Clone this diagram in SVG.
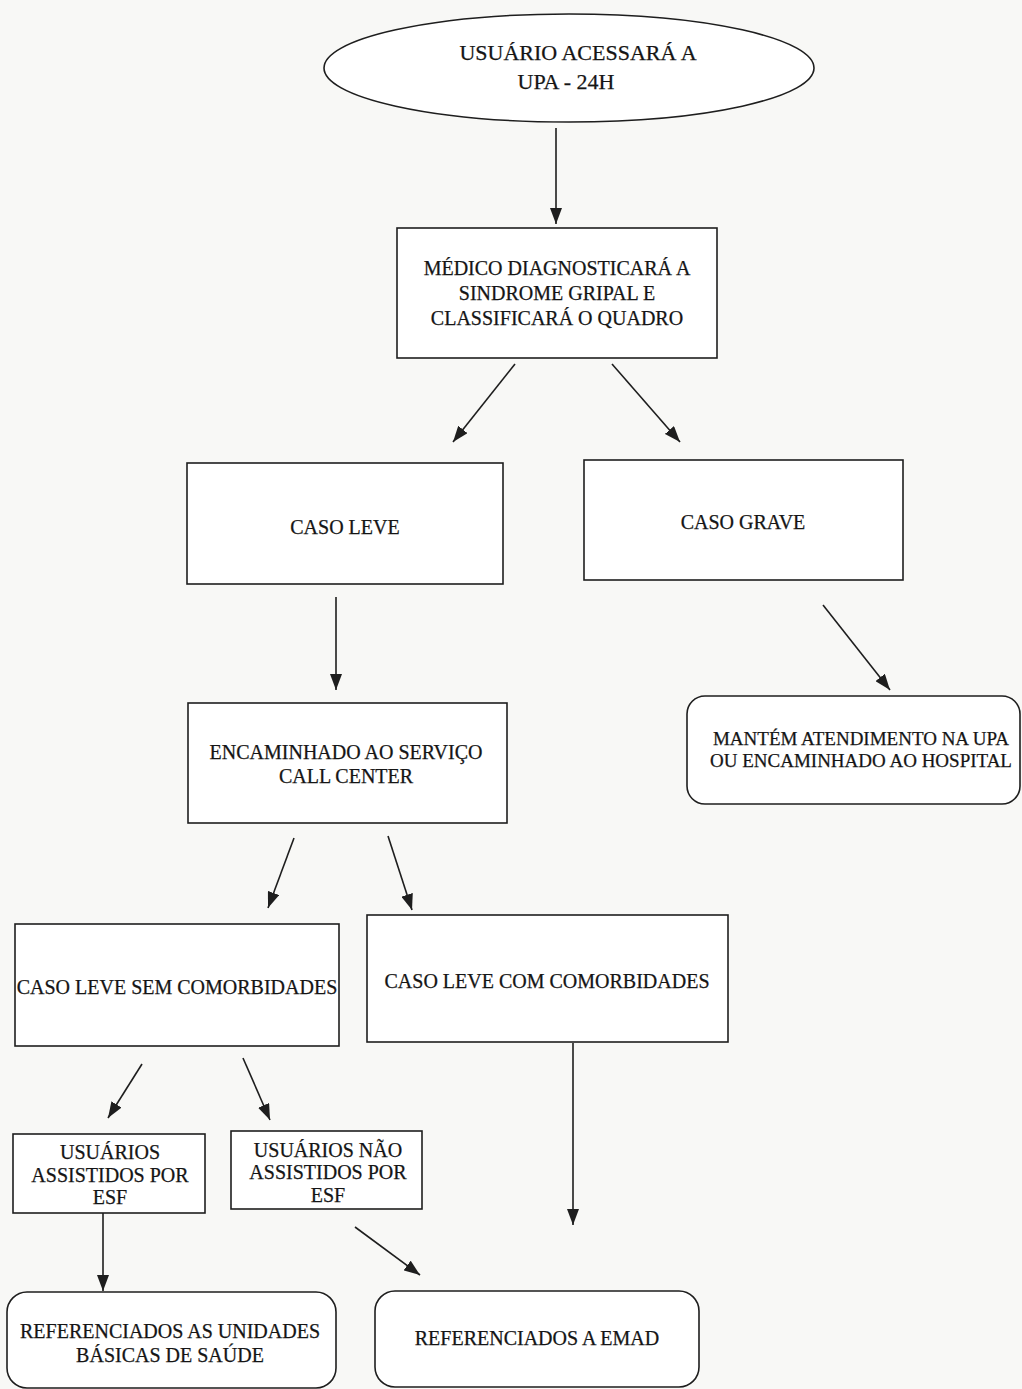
<svg xmlns="http://www.w3.org/2000/svg" width="1022" height="1389" viewBox="0 0 1022 1389">
<defs>
<style>
.bg{fill:#f8f8f6}
.box{fill:#ffffff;stroke:#1e1e1e;stroke-width:1.6}
.t{font-family:"Liberation Serif","Times New Roman",serif;font-size:20px;fill:#151515;stroke:#151515;stroke-width:0.25;text-anchor:middle}
.big{font-size:22px}
.sm{font-size:19px}
.c{stroke:#1e1e1e;stroke-width:1.6;fill:none;marker-end:url(#ah)}
</style>
<marker id="ah" markerUnits="userSpaceOnUse" markerWidth="16" markerHeight="12" refX="16" refY="6" orient="auto">
<path d="M0,0 L16,6 L0,12 z" fill="#1e1e1e"/>
</marker>
</defs>
<rect class="bg" x="0" y="0" width="1022" height="1389"/>

<g id="connectors">
<line class="c" x1="556" y1="128" x2="556" y2="224"/>
<line class="c" x1="515" y1="364" x2="453" y2="442"/>
<line class="c" x1="612" y1="364" x2="680" y2="442"/>
<line class="c" x1="336" y1="597" x2="336" y2="690"/>
<line class="c" x1="823" y1="605" x2="890" y2="690"/>
<line class="c" x1="294" y1="838" x2="268" y2="908"/>
<line class="c" x1="388" y1="836" x2="412" y2="910"/>
<line class="c" x1="142" y1="1064" x2="108" y2="1118"/>
<line class="c" x1="243" y1="1058" x2="270" y2="1120"/>
<line class="c" x1="573" y1="1043" x2="573" y2="1225"/>
<line class="c" x1="103" y1="1213" x2="103" y2="1291"/>
<line class="c" x1="355" y1="1227" x2="420" y2="1275"/>
</g>

<g id="n-usuario">
<ellipse class="box" cx="569" cy="68" rx="245" ry="54"/>
<text class="t big" x="578" y="60">USUÁRIO ACESSARÁ A</text>
<text class="t big" x="566" y="89">UPA - 24H</text>
</g>

<g id="n-medico">
<rect class="box" x="397" y="228" width="320" height="130"/>
<text class="t" x="557" y="275">MÉDICO DIAGNOSTICARÁ A</text>
<text class="t" x="557" y="300">SINDROME GRIPAL E</text>
<text class="t" x="557" y="325">CLASSIFICARÁ O QUADRO</text>
</g>

<g id="n-leve">
<rect class="box" x="187" y="463" width="316" height="121"/>
<text class="t" x="345" y="534">CASO LEVE</text>
</g>

<g id="n-grave">
<rect class="box" x="584" y="460" width="319" height="120"/>
<text class="t" x="743" y="529">CASO GRAVE</text>
</g>

<g id="n-callcenter">
<rect class="box" x="188" y="703" width="319" height="120"/>
<text class="t" x="346" y="759">ENCAMINHADO AO SERVIÇO</text>
<text class="t" x="346" y="783">CALL CENTER</text>
</g>

<g id="n-mantem">
<rect class="box" x="687" y="696" width="333" height="108" rx="18"/>
<text class="t sm" x="861" y="745">MANTÉM ATENDIMENTO NA UPA</text>
<text class="t sm" x="861" y="767">OU ENCAMINHADO AO HOSPITAL</text>
</g>

<g id="n-sem">
<rect class="box" x="15" y="924" width="324" height="122"/>
<text class="t" x="177" y="994">CASO LEVE SEM COMORBIDADES</text>
</g>

<g id="n-com">
<rect class="box" x="367" y="915" width="361" height="127"/>
<text class="t" x="547" y="988">CASO LEVE COM COMORBIDADES</text>
</g>

<g id="n-assistidos">
<rect class="box" x="13" y="1134" width="192" height="79"/>
<text class="t" x="110" y="1159">USUÁRIOS</text>
<text class="t" x="110" y="1182">ASSISTIDOS POR</text>
<text class="t" x="110" y="1204">ESF</text>
</g>

<g id="n-nao-assistidos">
<rect class="box" x="231" y="1131" width="191" height="78"/>
<text class="t" x="328" y="1157">USUÁRIOS NÃO</text>
<text class="t" x="328" y="1179">ASSISTIDOS POR</text>
<text class="t" x="328" y="1202">ESF</text>
</g>

<g id="n-ubs">
<rect class="box" x="7" y="1292" width="329" height="96" rx="20"/>
<text class="t" x="170" y="1338">REFERENCIADOS AS UNIDADES</text>
<text class="t" x="170" y="1362">BÁSICAS DE SAÚDE</text>
</g>

<g id="n-emad">
<rect class="box" x="375" y="1291" width="324" height="96" rx="20"/>
<text class="t" x="537" y="1345">REFERENCIADOS A EMAD</text>
</g>
</svg>
